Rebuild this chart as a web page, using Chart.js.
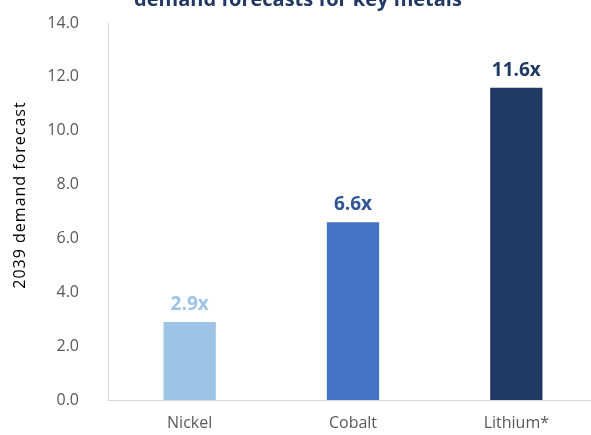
<!DOCTYPE html>
<html>
<head>
<meta charset="utf-8">
<script src="https://cdn.jsdelivr.net/npm/chart.js@4"></script>
<style>
  html, body { margin: 0; padding: 0; background: #fff; overflow: hidden; }
  #wrap { width: 600px; height: 435px; }
</style>
</head>
<body>
<div id="wrap"><canvas id="chart" width="600" height="435"></canvas></div>
<script>
// chart data
const metals = ['Nickel', 'Cobalt', 'Lithium*'];
const forecast = [2.9, 6.6, 11.6];
const barColors = ['#9DC3E6', '#4472C4', '#203864'];
const labelColors = ['#9DC3E6', '#2F5597', '#203864'];
const yTicks = [0, 2, 4, 6, 8, 10, 12, 14];
const chartTitle = 'demand forecasts for key metals';
const yTitle = '2039 demand forecast';

const FONT = '"Open Sans", "Liberation Sans", sans-serif';

// value labels above the bars, plus title and y-axis title
const textPlugin = {
    id: 'textPlugin',
    afterDatasetsDraw(chart) {
        const ctx = chart.ctx;
        const meta = chart.getDatasetMeta(0);
        ctx.save();
        ctx.font = 'bold 19px ' + FONT;
        ctx.textAlign = 'center';
        ctx.textBaseline = 'alphabetic';
        meta.data.forEach((bar, i) => {
            ctx.fillStyle = labelColors[i];
            ctx.fillText(forecast[i].toFixed(1) + 'x', bar.x, bar.y - 12);
        });

        // title, only its lower part shows at the top edge
        ctx.font = 'bold 20px ' + FONT;
        ctx.fillStyle = '#203864';
        ctx.fillText(chartTitle, 298, 6);

        // y axis title
        ctx.font = '16px ' + FONT;
        ctx.letterSpacing = '1px';
        ctx.fillStyle = '#000';
        ctx.translate(20, 195);
        ctx.rotate(-Math.PI / 2);
        ctx.textBaseline = 'middle';
        ctx.fillText(yTitle, 0, 0);
        ctx.restore();
    }
};

new Chart(document.getElementById('chart'), {
    type: 'bar',
    data: {
        labels: metals,
        datasets: [{
            data: forecast,
            backgroundColor: barColors,
            borderWidth: 0,
            barPercentage: 0.32,
            categoryPercentage: 1
        }]
    },
    options: {
        responsive: false,
        animation: false,
        layout: { padding: { top: 23, right: 2, bottom: 0, left: 0 } },
        plugins: {
            legend: { display: false },
            tooltip: { enabled: false }
        },
        scales: {
            x: {
                grid: { display: false, drawTicks: true, tickLength: 10 },
                border: { color: '#D9D9D9', width: 1 },
                ticks: { color: '#595959', font: { family: FONT, size: 16 }, padding: 4 },
                afterFit: s => { s.height = 35; }
            },
            y: {
                min: yTicks[0],
                max: yTicks[yTicks.length - 1],
                afterBuildTicks: s => { s.ticks = yTicks.map(v => ({ value: v })); },
                grid: { display: false, drawTicks: true, tickLength: 24 },
                border: { color: '#D9D9D9', width: 1 },
                ticks: {
                    color: '#595959',
                    font: { family: FONT, size: 16 },
                    padding: 5,
                    callback: v => v.toFixed(1)
                },
                afterFit: s => { s.width = 108; }
            }
        }
    },
    plugins: [textPlugin]
});
</script>
</body>
</html>
